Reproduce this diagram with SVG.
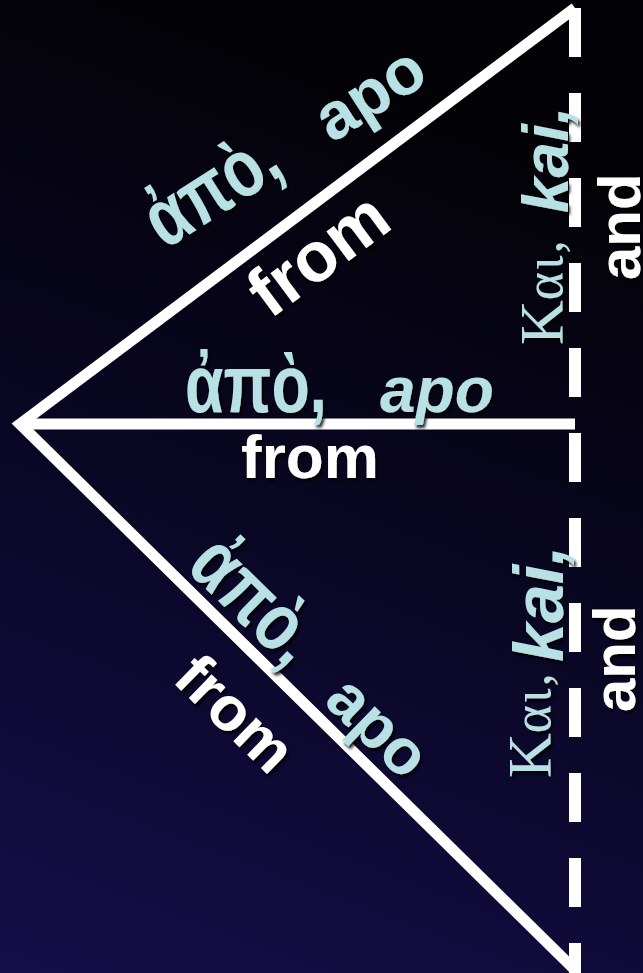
<svg xmlns="http://www.w3.org/2000/svg" width="643" height="973" viewBox="0 0 643 973">
<defs>
<linearGradient id="bg" x1="0.25" y1="0" x2="0" y2="1">
<stop offset="0" stop-color="#030206"/>
<stop offset="0.5" stop-color="#0a0726"/>
<stop offset="1" stop-color="#140e4a"/>
</linearGradient>
<filter id="sh" x="-10%" y="-10%" width="130%" height="130%">
<feDropShadow dx="2" dy="3" stdDeviation="1.5" flood-color="#000" flood-opacity="0.85"/>
</filter>
</defs>
<style>
.ln{stroke:#fff;stroke-width:11;fill:none;stroke-linejoin:miter;stroke-miterlimit:10}
.gr{font-family:"Liberation Sans","DejaVu Sans",sans-serif;font-weight:bold;fill:#b8e1e5}
.tl{font-family:"Liberation Sans",Arial,sans-serif;font-weight:bold;fill:#b8e1e5}
.wh{font-family:"Liberation Sans",Arial,sans-serif;font-weight:bold;fill:#fff}
.sf{font-family:"Liberation Serif","DejaVu Serif",serif;fill:#b8e1e5}
</style>
<rect width="643" height="973" fill="url(#bg)"/>
<g id="connectors">
<polyline class="ln" points="575,8 20,424 575,970"/>
<line class="ln" x1="20" y1="424" x2="575" y2="424" stroke-width="12"/>
<line x1="575" y1="8" x2="575" y2="973" stroke="#fff" stroke-width="12" stroke-dasharray="49 36"/>
</g>
<g id="label-upper" filter="url(#sh)">
<g transform="translate(165,250) rotate(-32.5)">
<text class="gr" x="0" y="0" font-size="82" textLength="144" lengthAdjust="spacingAndGlyphs">ἀπὸ,</text>
<text class="tl" x="198" y="0" font-size="66">apo</text>
</g>
<text class="wh" transform="translate(16,424) rotate(-36.65)" x="266" y="68" font-size="70">from</text>
</g>
<g id="label-middle" filter="url(#sh)">
<text class="gr" x="185" y="412" font-size="82" textLength="142" lengthAdjust="spacingAndGlyphs">ἀπὸ,</text>
<text class="tl" x="380" y="412" font-size="64" font-style="italic">apo</text>
<text class="wh" x="241" y="478" font-size="62">from</text>
</g>
<g id="label-lower" filter="url(#sh)">
<g transform="translate(16,424) rotate(44.2)">
<text class="gr" x="222" y="-14" font-size="82" textLength="144" lengthAdjust="spacingAndGlyphs">ἀπὸ,</text>
<text class="tl" x="414" y="-14" font-size="64">apo</text>
<text class="wh" x="290" y="76" font-size="62">from</text>
</g>
</g>
<g id="kai-upper" filter="url(#sh)">
<text class="sf" transform="translate(562,345) rotate(-90)" font-size="62">Κ<tspan font-size="54" letter-spacing="2">αι,</tspan></text>
<text class="tl" transform="translate(568,213) rotate(-90)" font-size="64" font-style="italic">kai,</text>
<text class="wh" transform="translate(640,280) rotate(-90)" font-size="60">and</text>
</g>
<g id="kai-lower" filter="url(#sh)">
<text class="sf" transform="translate(550,778) rotate(-90)" font-size="62">Κ<tspan font-size="54" letter-spacing="2">αι,</tspan></text>
<text class="tl" transform="translate(563,662) rotate(-90)" font-size="70" font-style="italic">kai,</text>
<text class="wh" transform="translate(635,712) rotate(-90)" font-size="60">and</text>
</g>
</svg>
